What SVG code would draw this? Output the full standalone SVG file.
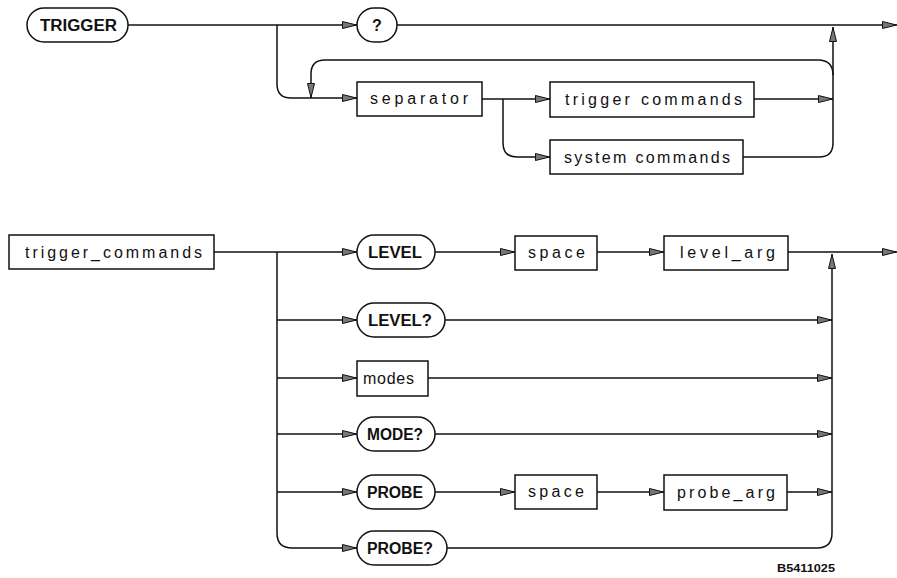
<svg xmlns="http://www.w3.org/2000/svg" width="897" height="578" viewBox="0 0 897 578">
<defs>
<marker id="arr" markerUnits="userSpaceOnUse" viewBox="0 0 15 9" refX="15" refY="4.5" markerWidth="15" markerHeight="9" orient="auto">
<path d="M0.5,1 L14.5,4.5 L0.5,8 Z" fill="#777" stroke="#111" stroke-width="1"/>
</marker>
</defs>
<style>
.n{fill:#fff;stroke:#111;stroke-width:1.5}
.c{fill:none;stroke:#111;stroke-width:1.5}
.k{font-family:"Liberation Sans",Arial,sans-serif;font-weight:bold;font-size:16px;fill:#111}
.b{font-family:"Liberation Sans",Arial,sans-serif;font-size:16px;fill:#111}
.id{font-family:"Liberation Sans",Arial,sans-serif;font-weight:bold;font-size:11px;fill:#111}
</style>
<rect width="897" height="578" fill="#fff"/>
<g id="connectors">
<path class="c" d="M128,25 H357" marker-end="url(#arr)"/>
<path class="c" d="M397,25 H897" marker-end="url(#arr)"/>
<path class="c" d="M277,25 V84 Q277,98 291,98 H357" marker-end="url(#arr)"/>
<path class="c" d="M833,75 Q833,60 818,60 H325 Q311,60 311,74 V98" marker-end="url(#arr)"/>
<path class="c" d="M743,157 H819 Q833,157 833,143 V27" marker-end="url(#arr)"/>
<path class="c" d="M482,99 H550" marker-end="url(#arr)"/>
<path class="c" d="M503,99 V143 Q503,157 517,157 H550" marker-end="url(#arr)"/>
<path class="c" d="M754,99 H833" marker-end="url(#arr)"/>
<path class="c" d="M214,252 H357" marker-end="url(#arr)"/>
<path class="c" d="M277,252 V533 Q277,548 292,548 H357" marker-end="url(#arr)"/>
<path class="c" d="M277,320 H357" marker-end="url(#arr)"/>
<path class="c" d="M277,378 H357" marker-end="url(#arr)"/>
<path class="c" d="M277,434 H357" marker-end="url(#arr)"/>
<path class="c" d="M277,492 H357" marker-end="url(#arr)"/>
<path class="c" d="M435,252 H515" marker-end="url(#arr)"/>
<path class="c" d="M597,252 H664" marker-end="url(#arr)"/>
<path class="c" d="M788,252 H897" marker-end="url(#arr)"/>
<path class="c" d="M447,548 H817 Q832,548 832,533 V254" marker-end="url(#arr)"/>
<path class="c" d="M445,320 H832" marker-end="url(#arr)"/>
<path class="c" d="M428,378 H832" marker-end="url(#arr)"/>
<path class="c" d="M435,434 H832" marker-end="url(#arr)"/>
<path class="c" d="M435,492 H515" marker-end="url(#arr)"/>
<path class="c" d="M597,492 H664" marker-end="url(#arr)"/>
<path class="c" d="M787,492 H832" marker-end="url(#arr)"/>
</g>
<g id="TRIGGER"><rect class="n" x="27" y="8" width="101" height="34" rx="17"/><text class="k" x="40" y="31" textLength="77" lengthAdjust="spacingAndGlyphs">TRIGGER</text></g>
<g id="query"><rect class="n" x="357" y="8" width="40" height="34" rx="17"/><text class="k" x="377" y="31" text-anchor="middle">?</text></g>
<g id="separator"><rect class="n" x="357" y="82" width="125" height="34"/><text class="b" x="370" y="104" textLength="98" lengthAdjust="spacing">separator</text></g>
<g id="trigger_commands_ref"><rect class="n" x="550" y="82" width="204" height="35"/><text class="b" x="565" y="105" textLength="177" lengthAdjust="spacing">trigger commands</text></g>
<g id="system_commands"><rect class="n" x="550" y="140" width="193" height="34"/><text class="b" x="564" y="163" textLength="166" lengthAdjust="spacing">system commands</text></g>
<g id="trigger_commands"><rect class="n" x="9" y="235" width="205" height="34"/><text class="b" x="25" y="258" textLength="177" lengthAdjust="spacing">trigger_commands</text></g>
<g id="LEVEL"><rect class="n" x="357" y="235" width="78" height="34" rx="17"/><text class="k" x="368" y="258" textLength="54" lengthAdjust="spacingAndGlyphs">LEVEL</text></g>
<g id="space1"><rect class="n" x="515" y="236" width="82" height="34"/><text class="b" x="528" y="258" textLength="57" lengthAdjust="spacing">space</text></g>
<g id="level_arg"><rect class="n" x="664" y="236" width="124" height="34"/><text class="b" x="680" y="258" textLength="95" lengthAdjust="spacing">level_arg</text></g>
<g id="LEVELQ"><rect class="n" x="357" y="303" width="88" height="34" rx="17"/><text class="k" x="368" y="326" textLength="64" lengthAdjust="spacingAndGlyphs">LEVEL?</text></g>
<g id="modes"><rect class="n" x="357" y="361" width="71" height="35"/><text class="b" x="363" y="384" textLength="51" lengthAdjust="spacing">modes</text></g>
<g id="MODEQ"><rect class="n" x="357" y="417" width="78" height="34" rx="17"/><text class="k" x="367" y="440" textLength="56" lengthAdjust="spacingAndGlyphs">MODE?</text></g>
<g id="PROBE"><rect class="n" x="357" y="475" width="78" height="34" rx="17"/><text class="k" x="367" y="498" textLength="56" lengthAdjust="spacingAndGlyphs">PROBE</text></g>
<g id="space2"><rect class="n" x="515" y="475" width="82" height="34"/><text class="b" x="528" y="497" textLength="56" lengthAdjust="spacing">space</text></g>
<g id="probe_arg"><rect class="n" x="664" y="475" width="123" height="35"/><text class="b" x="677" y="498" textLength="98" lengthAdjust="spacing">probe_arg</text></g>
<g id="PROBEQ"><rect class="n" x="357" y="531" width="90" height="34" rx="17"/><text class="k" x="367" y="554" textLength="66" lengthAdjust="spacingAndGlyphs">PROBE?</text></g>
<text class="id" x="777" y="572" textLength="58" lengthAdjust="spacingAndGlyphs">B5411025</text>
</svg>
